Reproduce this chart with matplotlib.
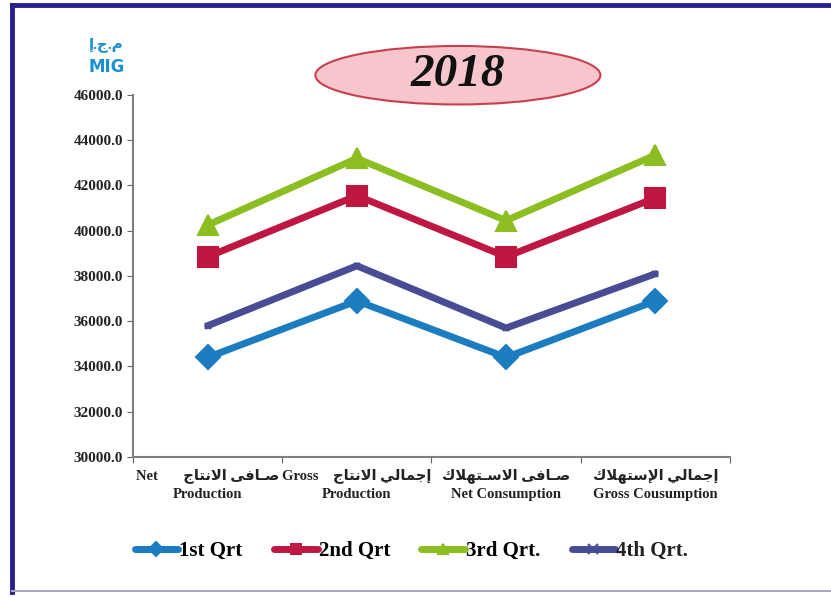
import matplotlib
matplotlib.use("Agg")
import matplotlib.pyplot as plt
from matplotlib.patches import Ellipse
from matplotlib.lines import Line2D

# data (MIG)
categories_en = ["Net\nProduction", "Gross\nProduction", "Net Consumption", "Gross Cousumption"]
categories_ar = ["صـافى الانتاج", "إجمالي الانتاج", "صـافى الاسـتهلاك", "إجمالي الإستهلاك"]
q1 = [34400, 36900, 34400, 36900]
q2 = [38850, 41550, 38850, 41450]
q3 = [40250, 43200, 40450, 43350]
q4 = [35800, 38450, 35700, 38100]
series_names = ["1st Qrt", "2nd Qrt", "3rd Qrt.", "4th Qrt."]
yticks = list(range(30000, 46001, 2000))

# matplotlib has no arabic shaping, so do it by hand
AR_FORMS = {
    'ا': ('\uFE8D', '\uFE8E', None, None),
    'إ': ('\uFE87', '\uFE88', None, None),
    'ى': ('\uFEEF', '\uFEF0', None, None),
    'ت': ('\uFE95', '\uFE96', '\uFE97', '\uFE98'),
    'ج': ('\uFE9D', '\uFE9E', '\uFE9F', '\uFEA0'),
    'س': ('\uFEB1', '\uFEB2', '\uFEB3', '\uFEB4'),
    'ص': ('\uFEB9', '\uFEBA', '\uFEBB', '\uFEBC'),
    'ف': ('\uFED1', '\uFED2', '\uFED3', '\uFED4'),
    'ك': ('\uFED9', '\uFEDA', '\uFEDB', '\uFEDC'),
    'ل': ('\uFEDD', '\uFEDE', '\uFEDF', '\uFEE0'),
    'م': ('\uFEE1', '\uFEE2', '\uFEE3', '\uFEE4'),
    'ن': ('\uFEE5', '\uFEE6', '\uFEE7', '\uFEE8'),
    'ه': ('\uFEE9', '\uFEEA', '\uFEEB', '\uFEEC'),
    'ي': ('\uFEF1', '\uFEF2', '\uFEF3', '\uFEF4'),
    'ـ': ('\u0640', '\u0640', '\u0640', '\u0640'),
}
LAM_ALEF = {'ا': ('\uFEFB', '\uFEFC'), 'إ': ('\uFEF9', '\uFEFA')}


def dual(c):
    return c in AR_FORMS and AR_FORMS[c][2] is not None


def ar(text):
    out = []
    i = 0
    while i < len(text):
        c = text[i]
        link_prev = i > 0 and dual(text[i - 1])
        if c == 'ل' and i + 1 < len(text) and text[i + 1] in LAM_ALEF:
            out.append(LAM_ALEF[text[i + 1]][1 if link_prev else 0])
            i += 2
            continue
        if c in AR_FORMS:
            nxt = text[i + 1] if i + 1 < len(text) else ''
            link_next = dual(c) and nxt in AR_FORMS
            iso, fin, ini, med = AR_FORMS[c]
            if link_prev and link_next:
                out.append(med)
            elif link_prev:
                out.append(fin)
            elif link_next:
                out.append(ini)
            else:
                out.append(iso)
        else:
            out.append(c)
        i += 1
    return ''.join(reversed(out))


FAM = ['Liberation Serif', 'DejaVu Sans']
colors = ['#1B7CC0', '#BE1842', '#8CBE22', '#474C95']
markers = ['D', 's', '^', 'x']
msizes = [12, 15, 15, 4]

fig = plt.figure(figsize=(8.31, 5.97), dpi=100)
fig.patch.set_facecolor('white')

# frame round the chart
fig.add_artist(Line2D([0.015, 0.015], [0.008, 0.992], color='#2A1F8F', lw=3.5))
fig.add_artist(Line2D([0.015, 1.0], [0.992, 0.992], color='#2A1F8F', lw=3.5))
fig.add_artist(Line2D([0.015, 1.0], [0.01, 0.01], color='#A8A8C0', lw=1.5))

ax = fig.add_axes([0.16, 0.2345, 0.7185, 0.6064])
x = [0.5, 1.5, 2.5, 3.5]
for vals, col, mk, ms, name in zip([q1, q2, q3, q4], colors, markers, msizes, series_names):
    ax.plot(x, vals, color=col, lw=5, marker=mk, markersize=ms,
            markeredgecolor=col, markeredgewidth=1.5, solid_capstyle='round', label=name)

ax.set_xlim(0, 4)
ax.set_ylim(30000, 46000)
ax.set_yticks(yticks)
ax.set_yticklabels([f"{v:.1f}" for v in yticks], fontfamily=FAM, fontweight='bold',
                   fontsize=11, color='#222222')
ax.set_xticks([0, 1, 2, 3, 4])
ax.set_xticklabels([])
ax.tick_params(axis='both', length=4, color='#666666', direction='out', pad=3)
for s in ['top', 'right']:
    ax.spines[s].set_visible(False)
for s in ['left', 'bottom']:
    ax.spines[s].set_color('#7F7F7F')
    ax.spines[s].set_linewidth(1.5)

# category labels (two lines, arabic + english)
labels = [
    "Net       " + ar(categories_ar[0]) + "\nProduction",
    "Gross    " + ar(categories_ar[1]) + "\nProduction",
    ar(categories_ar[2]) + "\nNet Consumption",
    ar(categories_ar[3]) + "\nGross Cousumption",
]
for xi, lab in zip(x, labels):
    ax.text(xi, 29500, lab, ha='center', va='top', fontfamily=FAM, fontweight='bold',
            fontsize=10.5, color='#222222', linespacing=1.5)

# unit label
fig.text(0.128, 0.925, ar("م.ج.إ"), ha='center', va='center', color='#1A8FD0',
         fontfamily=FAM, fontweight='bold', fontsize=11)
fig.text(0.128, 0.888, "MIG", ha='center', va='center', color='#1A8FD0',
         fontfamily='DejaVu Sans', fontweight='bold', fontsize=12)

# title in ellipse
fig.add_artist(Ellipse((0.551, 0.874), 0.343, 0.098, transform=fig.transFigure,
                       facecolor='#F6C6CC', edgecolor='#C8404F', lw=1.5))
fig.text(0.551, 0.874, "2018", ha='center', va='center', fontfamily='Liberation Serif',
         fontweight='bold', fontstyle='italic', fontsize=34, color='#111111')

leg = fig.legend(loc='center', bbox_to_anchor=(0.495, 0.077), ncol=4, frameon=False,
                 handlelength=2.1, handletextpad=0.05, columnspacing=1.5,
                 prop={'family': 'Liberation Serif', 'weight': 'bold', 'size': 15})
for h in leg.legend_handles:
    h.set_markersize(7)
leg.get_texts()[3].set_color('#222222')

fig.savefig("out.png", dpi=100, facecolor='white')
